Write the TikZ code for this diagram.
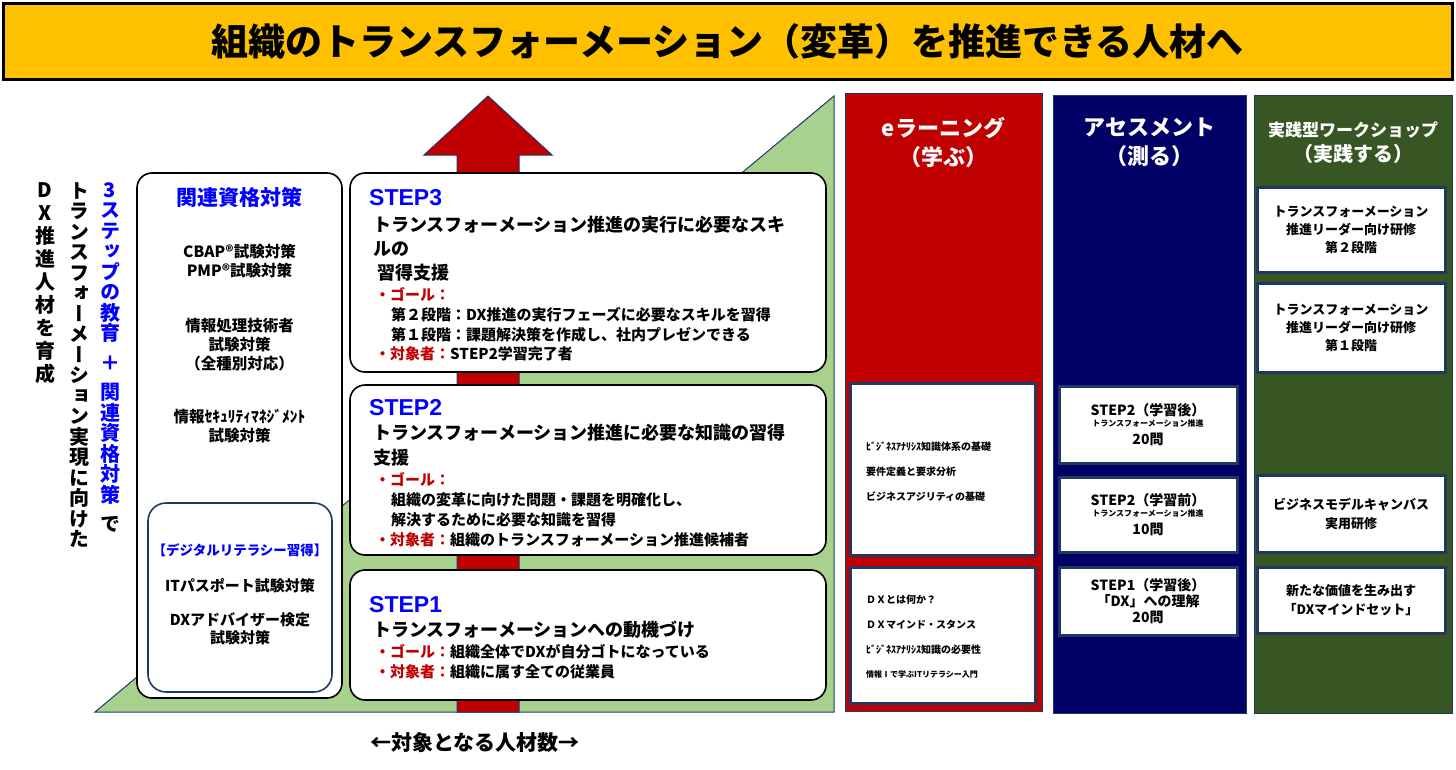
\documentclass[tikz,border=0pt]{standalone}
\usepackage{fontspec}
\setmainfont{Noto Sans CJK JP}
\newfontfamily\tatefont[RawFeature=+vert]{Noto Sans CJK JP}
\newfontfamily\stepfont{Liberation Sans}
\usepackage{xcolor}
\usepackage{tikz}
\definecolor{banneryellow}{HTML}{FFC000}
\definecolor{arrowred}{HTML}{C00000}
\definecolor{pyramidgreen}{HTML}{A9D18E}
\definecolor{assessnavy}{HTML}{000066}
\definecolor{shopgreen}{HTML}{375623}
\definecolor{edgenavy}{HTML}{1F3864}
\definecolor{stepblue}{HTML}{0000FF}
\definecolor{goalred}{HTML}{C00000}
\newcommand\fsz[2]{\fontsize{#1}{#2}\selectfont\bfseries}

\tikzset{
  banner/.style={fill=banneryellow, draw=black, line width=3pt, inner sep=0pt,
    minimum width=1449pt, minimum height=76pt, font=\fsz{37}{40}},
  stepbox/.style={fill=white, draw=black, line width=1.6pt, rounded corners=15pt, inner sep=0pt},
  colbox/.style={draw=edgenavy, line width=1pt, inner sep=0pt, minimum height=618pt},
  itembox/.style={fill=white, draw=edgenavy, line width=3pt, inner sep=0pt, align=center},
  headtxt/.style={text=white, align=center, inner sep=0pt},
  plaintxt/.style={inner sep=0pt, align=left, anchor=west},
  centertxt/.style={inner sep=0pt, align=center},
  steplabel/.style={inner sep=0pt, anchor=west, text=stepblue, font=\stepfont\fsz{23}{24}},
  tate/.style={inner sep=0pt, align=center, anchor=north, font=\tatefont\fsz{20}{20.5}}
}

\begin{document}
\begin{tikzpicture}[x=1pt, y=-1pt]
  \fill[white] (0,0) rectangle (1456,769);
  \useasboundingbox (0,0) rectangle (1456,769);

  \node[banner] (title) at (727.5,41.5) {組織のトランスフォーメーション（変革）を推進できる人材へ};

  \draw[fill=pyramidgreen, draw=edgenavy, line width=1pt] (95,712) -- (834,712) -- (834,96) -- cycle;
  \draw[fill=arrowred, draw=edgenavy, line width=1pt] (457,712) -- (457,155) -- (424,155)
    -- (488,96) -- (552,155) -- (519,155) -- (519,712) -- cycle;

  \node[tate, text=stepblue] (tate1) at (110,182)
    {3\\ス\\テ\\ッ\\プ\\の\\教\\育\\[9pt]＋\\[9pt]関\\連\\資\\格\\対\\策\\[9pt]\textcolor{black}{で}};
  \node[tate] (tate2) at (79,182)
    {ト\\ラ\\ン\\ス\\フ\\ォ\\ー\\メ\\ー\\シ\\ョ\\ン\\実\\現\\に\\向\\け\\た};
  \node[tate, font=\tatefont\fsz{20}{23}] (tate3) at (45,182)
    {D\\X\\推\\進\\人\\材\\を\\育\\成};

  \node[stepbox, minimum width=205pt, minimum height=525pt] (qual) at (239.5,435.5) {};
  \node[centertxt, text=stepblue, font=\fsz{21}{22}] (qtitle) at (239.5,197) {関連資格対策};
  \node[centertxt, font=\fsz{15.5}{18.5}] (qcbap) at (239.5,261) {CBAP®試験対策\\PMP®試験対策};
  \node[centertxt, font=\fsz{15.5}{19}] (qjoho) at (239.5,344.5) {情報処理技術者\\試験対策\\（全種別対応）};
  \node[centertxt, font=\fsz{15.5}{18.5}] (qsec) at (239.5,426) {情報ｾｷｭﾘﾃｨﾏﾈｼﾞﾒﾝﾄ\\試験対策};
  \node[stepbox, draw=edgenavy, rounded corners=18pt, minimum width=184pt, minimum height=189pt] (dl) at (240,597.5) {};
  \node[centertxt, text=stepblue, font=\fsz{13.5}{16}] (qdl) at (240,550) {【デジタルリテラシー習得】};
  \node[centertxt, font=\fsz{15}{18}] (qit) at (240,586) {ITパスポート試験対策};
  \node[centertxt, font=\fsz{15}{18.5}] (qdxa) at (240,629) {DXアドバイザー検定\\試験対策};

  \node[stepbox, minimum width=476pt, minimum height=199pt] (s3) at (588,272.5) {};
  \node[steplabel] (s3num) at (369,198) {STEP3};
  \node[plaintxt, font=\fsz{18}{24}] (s3title) at (373,249)
    {トランスフォーメーション推進の実行に必要なスキ\\ルの\\\hspace*{4pt}習得支援};
  \node[plaintxt, font=\fsz{15}{19.7}] (s3body) at (375,324.5)
    {\textcolor{goalred}{・ゴール：}\\
     \hspace*{16pt}第２段階：DX推進の実行フェーズに必要なスキルを習得\\
     \hspace*{16pt}第１段階：課題解決策を作成し、社内プレゼンできる\\
     \textcolor{goalred}{・対象者：}STEP2学習完了者};

  \node[stepbox, minimum width=476pt, minimum height=170pt] (s2) at (588,470) {};
  \node[steplabel] (s2num) at (369,408) {STEP2};
  \node[plaintxt, font=\fsz{18}{25}] (s2title) at (373,445.5)
    {トランスフォーメーション推進に必要な知識の習得\\支援};
  \node[plaintxt, font=\fsz{15}{20}] (s2body) at (375,510)
    {\textcolor{goalred}{・ゴール：}\\
     \hspace*{16pt}組織の変革に向けた問題・課題を明確化し、\\
     \hspace*{16pt}解決するために必要な知識を習得\\
     \textcolor{goalred}{・対象者：}組織のトランスフォーメーション推進候補者};

  \node[stepbox, minimum width=476pt, minimum height=130pt] (s1) at (588,635) {};
  \node[steplabel] (s1num) at (369,605) {STEP1};
  \node[plaintxt, font=\fsz{18}{24}] (s1title) at (373,630) {トランスフォーメーションへの動機づけ};
  \node[plaintxt, font=\fsz{15}{20}] (s1body) at (375,662)
    {\textcolor{goalred}{・ゴール：}組織全体でDXが自分ゴトになっている\\
     \textcolor{goalred}{・対象者：}組織に属す全ての従業員};

  \node[colbox, fill=arrowred, minimum width=197pt] (elearn) at (943.5,402) {};
  \node[colbox, fill=assessnavy, minimum width=193pt] (assess) at (1149.5,404) {};
  \node[colbox, fill=shopgreen, minimum width=198pt] (shop) at (1353,404) {};

  \node[headtxt, font=\fsz{22}{29}] (elearnhead) at (943.5,142.5) {eラーニング\\（学ぶ）};
  \node[headtxt, font=\fsz{22}{29}] (assesshead) at (1149.5,142.5) {アセスメント\\（測る）};
  \node[headtxt, font=\fsz{17}{25}] (shophead) at (1353,142.5) {実践型ワークショップ\\{\fontsize{20}{25}\selectfont （実践する）}};

  \node[itembox, minimum width=185pt, minimum height=172pt] (ebox1) at (942.5,469) {};
  \node[plaintxt, font=\fsz{10}{25}] (etxt1) at (866,472)
    {ﾋﾞｼﾞﾈｽｱﾅﾘｼｽ知識体系の基礎\\要件定義と要求分析\\ビジネスアジリティの基礎};
  \node[itembox, minimum width=185pt, minimum height=136pt] (ebox2) at (942.5,635) {};
  \node[plaintxt, font=\fsz{10}{24.7}] (etxt2) at (866,637)
    {ＤＸとは何か？\\ＤＸマインド・スタンス\\ﾋﾞｼﾞﾈｽｱﾅﾘｼｽ知識の必要性\\{\fontsize{8}{9}\selectfont 情報Ⅰで学ぶITリテラシー入門}};

  \node[itembox, minimum width=178pt, minimum height=77pt, font=\fsz{14}{14.5}] (abox1) at (1148,424.5)
    {STEP2（学習後）\\[-3pt]{\fontsize{8}{9}\selectfont トランスフォーメーション推進}\\[3pt]20問};
  \node[itembox, minimum width=178pt, minimum height=75pt, font=\fsz{14}{14.5}] (abox2) at (1148,514.5)
    {STEP2（学習前）\\[-3pt]{\fontsize{8}{9}\selectfont トランスフォーメーション推進}\\[3pt]10問};
  \node[itembox, minimum width=178pt, minimum height=68pt, font=\fsz{14}{16}] (abox3) at (1148,601)
    {STEP1（学習後）\\「DX」への理解\\20問};

  \node[itembox, minimum width=188pt, minimum height=85pt, font=\fsz{13}{18}] (wbox1) at (1351,229.5)
    {トランスフォーメーション\\推進リーダー向け研修\\第２段階};
  \node[itembox, minimum width=188pt, minimum height=89pt, font=\fsz{13}{18}] (wbox2) at (1351,327.5)
    {トランスフォーメーション\\推進リーダー向け研修\\第１段階};
  \node[itembox, minimum width=188pt, minimum height=77pt, font=\fsz{13}{19}] (wbox3) at (1351,513.5)
    {ビジネスモデルキャンバス\\実用研修};
  \node[itembox, minimum width=188pt, minimum height=66pt, font=\fsz{13}{19}] (wbox4) at (1351,600)
    {新たな価値を生み出す\\「DXマインドセット」};

  \node[centertxt, font=\fsz{21}{24}] (count) at (475,743) {←対象となる人材数→};
\end{tikzpicture}
\end{document}
